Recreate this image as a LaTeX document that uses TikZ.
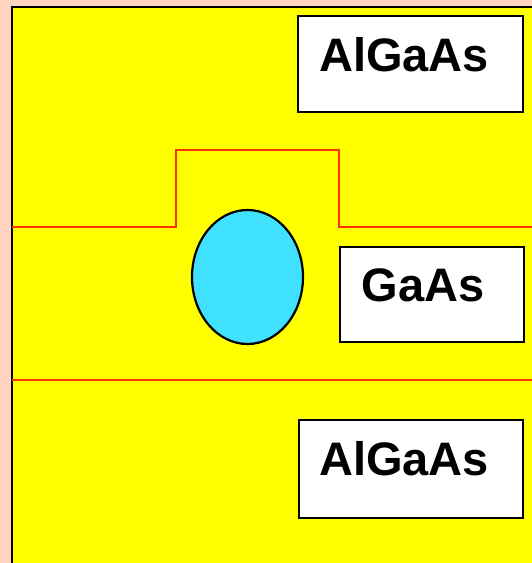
\documentclass[tikz,border=0pt]{standalone}
\usetikzlibrary{shapes.geometric}
\usepackage{fontspec}
\setmainfont{Liberation Sans}
\definecolor{peach}{HTML}{FFD5BF}
\definecolor{layer}{HTML}{FFFF00}
\definecolor{dot}{HTML}{40E0FF}
\definecolor{iface}{HTML}{FF3300}
\begin{document}
\begin{tikzpicture}[x=1pt,y=-1pt,
  labelbox/.style={draw=black,line width=2pt,fill=white,inner sep=0pt,anchor=north west},
  labeltext/.style={anchor=base,font=\fontsize{47}{50}\selectfont\bfseries,inner sep=0pt},
  interface/.style={draw=iface,line width=1.5pt}]
\useasboundingbox (0,0) rectangle (532,563);
\fill[peach] (0,0) rectangle (532,563);
\fill[layer] (12,7) rectangle (533,564);
\draw[line width=2pt,black] (12,564) -- (12,7) -- (533,7);
% interfaces
\coordinate (i1) at (12,227);
\coordinate (i2) at (176,227);
\coordinate (i3) at (176,150);
\coordinate (i4) at (339,150);
\coordinate (i5) at (339,227);
\coordinate (i6) at (533,227);
\draw[interface] (i1) -- (i2) -- (i3) -- (i4) -- (i5) -- (i6);
\coordinate (j1) at (12,380);
\coordinate (j2) at (533,380);
\draw[interface] (j1) -- (j2);
% quantum dot
\node[draw=black,line width=2.2pt,fill=dot,ellipse,minimum width=111pt,minimum height=134pt,inner sep=0pt] (qd) at (247.5,277) {};
% label boxes
\node[labelbox,minimum width=225pt,minimum height=96pt] (b1) at (297,15) {};
\node[labelbox,minimum width=184pt,minimum height=95pt] (b2) at (339,246) {};
\node[labelbox,minimum width=224pt,minimum height=98pt] (b3) at (298,419) {};
\node[labeltext] (t1) at (404,71) {AlGaAs};
\node[labeltext] (t2) at (423,301) {GaAs};
\node[labeltext] (t3) at (404,475) {AlGaAs};
\end{tikzpicture}
\end{document}
